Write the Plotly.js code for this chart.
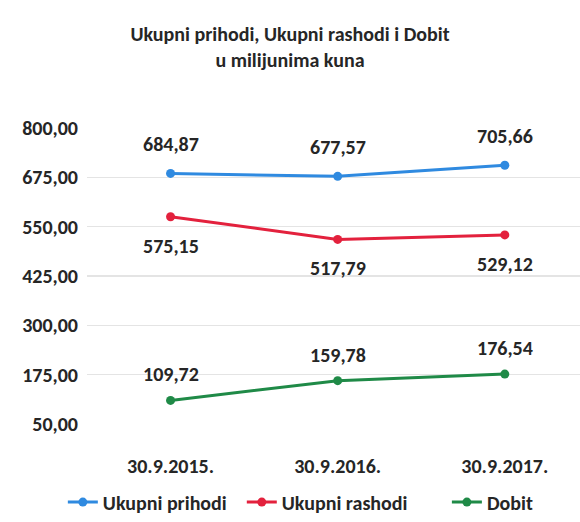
<!DOCTYPE html>
<html>
<head>
<meta charset="utf-8">
<script src="https://cdn.plot.ly/plotly-3.0.1.min.js"></script>
<style>
html,body{margin:0;padding:0;background:#fff;}
#chart{width:580px;height:522px;}
</style>
</head>
<body>
<div id="chart"></div>
<script>
const categories = ["30.9.2015.", "30.9.2016.", "30.9.2017."];
const prihodi = [684.87, 677.57, 705.66];
const rashodi = [575.15, 517.79, 529.12];
const dobit = [109.72, 159.78, 176.54];
const yTicks = [50, 175, 300, 425, 550, 675, 800];
const yTickText = ["50,00", "175,00", "300,00", "425,00", "550,00", "675,00", "800,00"];
const seriesNames = ["Ukupni prihodi", "Ukupni rashodi", "Dobit"];

const FONT = "Carlito, Lato, 'Open Sans', sans-serif";
const colors = ["#2f8ae0", "#e3213d", "#1f8a47"];
const fmt = v => v.toFixed(2).replace(".", ",");

const xs = [0, 1, 2];
const allSeries = [prihodi, rashodi, dobit];
const legendIds = ["legend", "legend2", "legend3"];
const traces = allSeries.map((vals, i) => ({
  x: xs, y: vals, name: seriesNames[i], type: "scatter", mode: "lines+markers",
  line: {color: colors[i], width: 3},
  marker: {color: colors[i], size: 9},
  legend: legendIds[i],
  hoverinfo: "skip"
}));

const shifts = [29, -29, 26];
const annotations = [];
allSeries.forEach((vals, i) => {
  vals.forEach((v, j) => {
    annotations.push({
      x: xs[j], y: v, xref: "x", yref: "y", text: fmt(v), showarrow: false,
      yshift: shifts[i], font: {family: FONT, size: 20, color: "#262626", weight: "bold"}
    });
  });
});

const legendX = [-0.049, 0.314, 0.730];
const legendBase = (x) => ({
  orientation: "h", x: x, xanchor: "left", y: -0.198, yanchor: "top",
  font: {family: FONT, size: 20, color: "#262626", weight: "bold"},
  itemwidth: 30, bgcolor: "rgba(0,0,0,0)"
});

const layout = {
  width: 580, height: 522,
  paper_bgcolor: "#fff", plot_bgcolor: "#fff",
  margin: {l: 87, r: 0, t: 128, b: 98, autoexpand: false},
  title: {
    text: "Ukupni prihodi, Ukupni rashodi i Dobit<br>u milijunima kuna",
    x: 0.5, xanchor: "center", y: 0.922, yanchor: "top",
    font: {family: FONT, size: 20, color: "#262626", weight: "bold"}
  },
  xaxis: {
    range: [-0.5, 2.45], tickvals: xs, ticktext: categories,
    showgrid: false, zeroline: false, showline: false, ticks: "",
    tickfont: {family: FONT, size: 20, color: "#262626", weight: "bold"},
    ticklabelstandoff: 28, fixedrange: true
  },
  yaxis: {
    range: [50, 800], tickvals: yTicks, ticktext: yTickText,
    showgrid: true, gridcolor: "#e4e4e4", gridwidth: 1.5, zeroline: false, showline: false, ticks: "",
    tickfont: {family: FONT, size: 20, color: "#262626", weight: "bold"},
    ticklabelstandoff: 8, fixedrange: true
  },
  showlegend: true,
  legend: legendBase(legendX[0]),
  legend2: legendBase(legendX[1]),
  legend3: legendBase(legendX[2]),
  annotations: annotations
};

Plotly.newPlot("chart", traces, layout, {displayModeBar: false, staticPlot: true});
</script>
</body>
</html>
